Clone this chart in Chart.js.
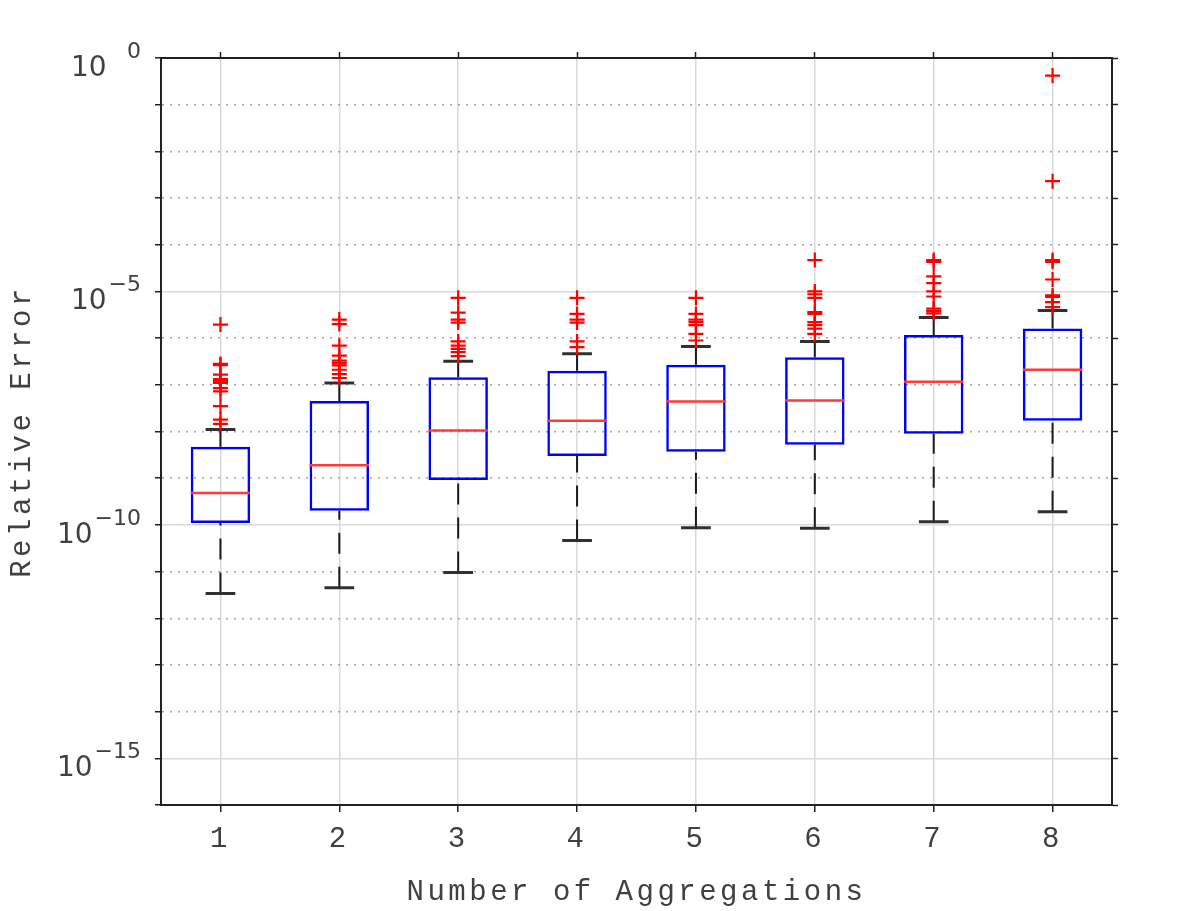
<!DOCTYPE html>
<html>
<head>
<meta charset="utf-8">
<script src="https://cdn.jsdelivr.net/npm/chart.js@4.4.1/dist/chart.umd.min.js"></script>
<style>
  html, body { margin: 0; padding: 0; background: #ffffff; }
  #wrap { width: 1196px; height: 911px; position: relative; }
</style>
</head>
<body>
<div id="wrap"><canvas id="c"></canvas></div>
<script>
// ---------------- data ----------------
const categories = [1, 2, 3, 4, 5, 6, 7, 8];
const xTitle = 'Number of Aggregations';
const yTitle = 'Relative Error';

const boxLow      = [1.1e-10, 2.0e-10, 9.1e-10, 3.0e-9, 3.7e-9, 5.2e-9, 8.9e-9, 1.7e-8];
const medians     = [4.8e-10, 1.9e-9, 1.05e-8, 1.7e-8, 4.4e-8, 4.6e-8, 1.17e-7, 2.1e-7];
const boxHigh     = [4.7e-9, 4.5e-8, 1.45e-7, 2.0e-7, 2.7e-7, 3.9e-7, 1.17e-6, 1.6e-6];
const whiskerLow  = [3.4e-12, 4.5e-12, 9.5e-12, 4.6e-11, 8.7e-11, 8.5e-11, 1.17e-10, 1.9e-10];
const whiskerHigh = [1.1e-8, 1.1e-7, 3.2e-7, 4.6e-7, 6.6e-7, 8.5e-7, 2.75e-6, 3.9e-6];

const outliers1 = [1.95e-6, 2.8e-7, 2.65e-7, 1.65e-7, 1.32e-7, 1.2e-7, 1.1e-7, 8.5e-8, 7.2e-8, 3.5e-8, 1.8e-8, 1.45e-8];
const outliers2 = [2.5e-6, 2.0e-6, 6.9e-7, 4.2e-7, 3.3e-7, 2.9e-7, 2.6e-7, 2.1e-7, 1.7e-7, 1.4e-7];
const outliers3 = [7.3e-6, 3.5e-6, 2.5e-6, 2.15e-6, 8.5e-7, 6.9e-7, 5.9e-7, 5.0e-7, 4.1e-7];
const outliers4 = [7.3e-6, 3.3e-6, 2.5e-6, 2.15e-6, 8.5e-7, 6.4e-7];
const outliers5 = [7.3e-6, 3.3e-6, 2.5e-6, 2.2e-6, 1.9e-6, 1.23e-6, 8.9e-7];
const outliers6 = [4.7e-5, 1.0e-5, 8.7e-6, 7.3e-6, 3.6e-6, 3.3e-6, 2.2e-6, 1.9e-6, 1.6e-6, 1.23e-6];
const outliers7 = [4.7e-5, 4.3e-5, 2.1e-5, 1.5e-5, 1.0e-5, 7.8e-6, 4.3e-6, 3.8e-6, 3.4e-6];
const outliers8 = [0.42, 2.3e-3, 4.7e-5, 4.3e-5, 1.8e-5, 8.2e-6, 7.6e-6, 5.9e-6, 4.6e-6];
const outliers = [outliers1, outliers2, outliers3, outliers4, outliers5, outliers6, outliers7, outliers8];

const yMin = 1e-16, yMax = 1;
const yGridDecades = [1e-16, 1e-15, 1e-14, 1e-13, 1e-12, 1e-11, 1e-10, 1e-9, 1e-8,
                      1e-7, 1e-6, 1e-5, 1e-4, 1e-3, 1e-2, 1e-1, 1];
const yTickExponents = [0, -5, -10, -15];

// ---------------- styling constants ----------------
const BOX_HALF = 0.25, CAP_HALF = 0.125;
const TEXT = '#404040', AXIS = '#222222';
const GRID_MAJOR = '#d9d9d9', GRID_MINOR = '#a3a3a3';
const MONO = '"Liberation Mono", "DejaVu Sans Mono", monospace';

const isMajor = v => Math.round(Math.log10(v)) % 5 === 0;

// ---------------- derived mark data ----------------
const boxData = categories.map((c, i) => ({ x: c, y: [boxLow[i], boxHigh[i]] }));
const medianData = categories.flatMap((c, i) => [
  { x: c - BOX_HALF, y: medians[i] }, { x: c + BOX_HALF, y: medians[i] }, { x: c, y: null }]);
const upperWhiskerData = categories.flatMap((c, i) => [
  { x: c, y: whiskerHigh[i] }, { x: c, y: boxHigh[i] }, { x: c, y: null }]);
const lowerWhiskerData = categories.flatMap((c, i) => [
  { x: c, y: whiskerLow[i] }, { x: c, y: boxLow[i] }, { x: c, y: null }]);
const capData = categories.flatMap((c, i) => [
  { x: c - CAP_HALF, y: whiskerHigh[i] }, { x: c + CAP_HALF, y: whiskerHigh[i] }, { x: c, y: null },
  { x: c - CAP_HALF, y: whiskerLow[i] }, { x: c + CAP_HALF, y: whiskerLow[i] }, { x: c, y: null }]);
const outlierData = categories.flatMap((c, i) => outliers[i].map(v => ({ x: c, y: v })));

const lineBase = { type: 'line', pointRadius: 0, pointHoverRadius: 0, fill: false, tension: 0, spanGaps: false };

const yLabelPlugin = {
  id: 'yLabels',
  beforeDraw(chart) { chart.ctx.letterSpacing = '3.5px'; },
  afterDraw(chart) {
    const ctx = chart.ctx;
    ctx.letterSpacing = '0px';
    ctx.save();
    const ys = chart.scales.y;
    const right = chart.chartArea.left - 20;
    ctx.fillStyle = TEXT;
    ctx.textAlign = 'left';
    ctx.textBaseline = 'alphabetic';
    yTickExponents.forEach(e => {
      const py = ys.getPixelForValue(Math.pow(10, e));
      const expText = e < 0 ? '\u2212' + Math.abs(e) : String(e);
      ctx.font = '22px "DejaVu Sans"';
      const ew = ctx.measureText(expText).width;
      const reserve = ctx.measureText('\u2212' + Math.abs(e)).width;
      ctx.fillText(expText, right - ew, py);
      ctx.font = '28px "DejaVu Sans"';
      const bw = ctx.measureText('10').width;
      ctx.fillText('10', right - reserve - 2 - bw, py + 18);
    });
    ctx.restore();
  }
};

new Chart(document.getElementById('c'), {
  type: 'bar',
  data: {
    datasets: [
      { type: 'scatter', data: outlierData, pointStyle: 'cross', pointRadius: 7.5, pointHoverRadius: 7.5,
        borderColor: '#ff0000', backgroundColor: '#ff0000', pointBorderWidth: 2.2, borderWidth: 2.2, showLine: false, order: 0 },
      Object.assign({}, lineBase, { data: medianData, borderColor: '#ff3a3a', borderWidth: 2.5, order: 1 }),
      { type: 'bar', data: boxData, backgroundColor: 'rgba(0,0,0,0)', borderColor: '#0000ff', borderWidth: 2.5,
        borderSkipped: false, barPercentage: 0.5, categoryPercentage: 1.0, order: 2 },
      Object.assign({}, lineBase, { data: capData, borderColor: '#303030', borderWidth: 3, order: 3 }),
      Object.assign({}, lineBase, { data: upperWhiskerData, borderColor: '#1a1a1a', borderWidth: 2, borderDash: [21, 13], order: 4 }),
      Object.assign({}, lineBase, { data: lowerWhiskerData, borderColor: '#1a1a1a', borderWidth: 2, borderDash: [21, 13], order: 4 })
    ]
  },
  options: {
    responsive: true,
    maintainAspectRatio: false,
    animation: false,
    layout: { padding: 0 },
    plugins: { legend: { display: false }, tooltip: { enabled: false } },
    scales: {
      x: {
        type: 'linear', position: 'bottom', min: 0.5, max: 8.5, offset: false,
        afterBuildTicks: s => { s.ticks = categories.map(v => ({ value: v })); },
        afterFit: s => { s.height = 106; },
        ticks: { callback: v => String(v), font: { family: MONO, size: 29 }, color: TEXT, padding: 10, autoSkip: false, maxRotation: 0 },
        grid: { offset: false, color: GRID_MAJOR, lineWidth: 1.5, tickColor: AXIS, tickLength: 7, tickWidth: 1.5 },
        border: { color: AXIS, width: 2 },
        title: { display: true, text: xTitle, font: { family: MONO, size: 29 }, color: TEXT, padding: { top: 0, bottom: 1 } }
      },
      xTop: {
        type: 'linear', position: 'top', min: 0.5, max: 8.5, offset: false,
        afterBuildTicks: s => { s.ticks = categories.map(v => ({ value: v })); },
        afterFit: s => { s.height = 58; },
        ticks: { display: false },
        grid: { offset: false, drawOnChartArea: false, tickColor: AXIS, tickLength: 6, tickWidth: 1.5 },
        border: { color: AXIS, width: 2 }
      },
      y: {
        type: 'logarithmic', position: 'left', min: yMin, max: yMax,
        afterBuildTicks: s => { s.ticks = yGridDecades.map(v => ({ value: v })); },
        afterFit: s => { s.width = 161; },
        ticks: { display: false },
        grid: {
          color: c => (c.tick && !isMajor(c.tick.value)) ? GRID_MINOR : GRID_MAJOR,
          lineWidth: 1.5, tickColor: AXIS, tickLength: 6, tickWidth: 1.5
        },
        border: { color: AXIS, width: 2, dash: c => (c.tick && !isMajor(c.tick.value)) ? [2, 6] : [] },
        title: { display: true, text: yTitle, font: { family: MONO, size: 29 }, color: TEXT, padding: { top: 5, bottom: 0 } }
      },
      yRight: {
        type: 'logarithmic', position: 'right', min: yMin, max: yMax,
        afterBuildTicks: s => { s.ticks = yGridDecades.map(v => ({ value: v })); },
        afterFit: s => { s.width = 84; },
        ticks: { display: false },
        grid: { drawOnChartArea: false, tickColor: AXIS, tickLength: 6, tickWidth: 1.5 },
        border: { color: AXIS, width: 2 }
      }
    }
  },
  plugins: [yLabelPlugin]
});
</script>
</body>
</html>
